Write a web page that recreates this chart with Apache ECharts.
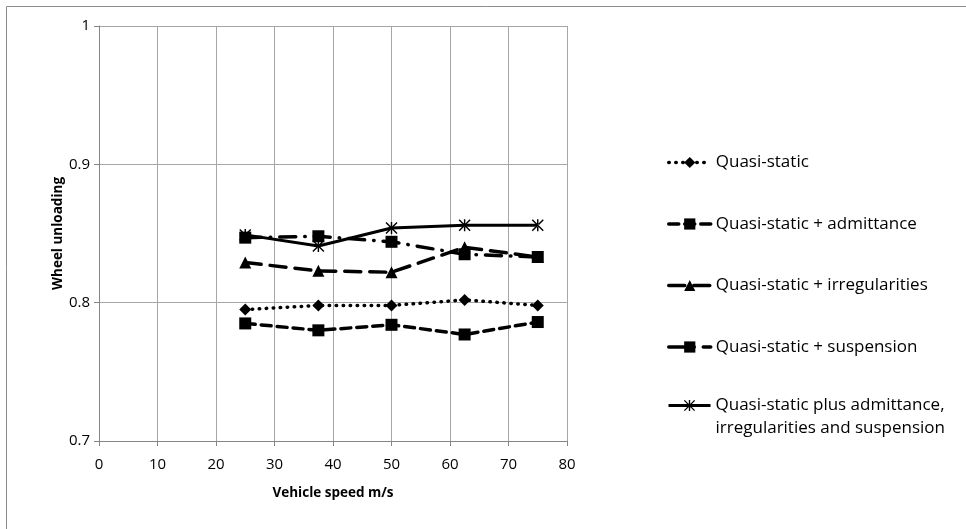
<!DOCTYPE html>
<html>
<head>
<meta charset="utf-8">
<script src="https://cdn.jsdelivr.net/npm/echarts@6/dist/echarts.min.js"></script>
<style>
html,body{margin:0;padding:0;background:#fff;}
#c{width:966px;height:529px;}
</style>
</head>
<body>
<div id="c"></div>
<script>
// Data
const speeds = [25, 37.5, 50, 62.5, 75];
const seriesNames = [
  'Quasi-static',
  'Quasi-static + admittance',
  'Quasi-static + irregularities',
  'Quasi-static + suspension',
  'Quasi-static plus admittance,\nirregularities and suspension'
];
const quasiStatic      = [0.795, 0.798, 0.798, 0.802, 0.798];
const qsAdmittance     = [0.785, 0.780, 0.784, 0.777, 0.786];
const qsIrregularities = [0.829, 0.823, 0.822, 0.840, 0.833];
const qsSuspension     = [0.847, 0.848, 0.844, 0.835, 0.833];
const qsAll            = [0.849, 0.841, 0.854, 0.856, 0.856];
const xTicks = [0, 10, 20, 30, 40, 50, 60, 70, 80];
const yTicks = [0.7, 0.8, 0.9, 1];

const FONT = '"Open Sans", Lato, sans-serif';
const asterisk = 'path://M4.4 0 L5.6 0 L5.6 10 L4.4 10 Z M0 0.85 L0.85 0 L10 9.15 L9.15 10 Z M10 0.85 L9.15 0 L0 9.15 L0.85 10 Z';

function pairs(vals){ return speeds.map((s,i)=>[s, vals[i]]); }

const legendCommon = {
  orient:'vertical', left:662, itemWidth:42, itemHeight:14,
  lineStyle:{width:'inherit'},
  textStyle:{fontFamily:FONT, fontSize:17, color:'#000', lineHeight:23}
};

const chart = echarts.init(document.getElementById('c'), null, {renderer:'canvas'});
const option = {
  animation:false,
  backgroundColor:'#fff',
  graphic:[{
    type:'rect', shape:{x:6.5, y:6.5, width:1000, height:1000},
    style:{fill:'none', stroke:'#8c8c8c', lineWidth:1}, silent:true, z:-1
  }],
  grid:{left:99, top:26, right:399, bottom:88, containLabel:false},
  xAxis:{
    type:'value', min:0, max:80, interval:10,
    name:'Vehicle speed m/s', nameLocation:'middle', nameGap:45,
    nameTextStyle:{fontFamily:FONT, fontWeight:'bold', fontSize:13.5, color:'#000'},
    axisLine:{show:true, lineStyle:{color:'#868686', width:1}},
    axisTick:{show:true, length:5, lineStyle:{color:'#868686'}},
    axisLabel:{fontFamily:FONT, fontSize:15, color:'#000', margin:16},
    splitLine:{show:true, lineStyle:{color:'#a6a6a6', width:1}}
  },
  yAxis:{
    type:'value', min:0.7, max:1, interval:0.1,
    name:'Wheel unloading', nameLocation:'middle', nameGap:32, nameRotate:90,
    nameTextStyle:{fontFamily:FONT, fontWeight:'bold', fontSize:13.5, color:'#000'},
    axisLine:{show:true, lineStyle:{color:'#868686', width:1}},
    axisTick:{show:true, length:5, lineStyle:{color:'#868686'}},
    axisLabel:{fontFamily:FONT, fontSize:15, color:'#000', margin:9,
      formatter:(v)=>{ const r=Math.round(v*10)/10; return r===1?'1':String(r); }},
    splitLine:{show:true, lineStyle:{color:'#a6a6a6', width:1}}
  },
  legend:[
    Object.assign({}, legendCommon, {
      top:146, itemGap:38.5,
      data:seriesNames.slice(0,4)
    }),
    Object.assign({}, legendCommon, {
      top:366,
      data:[seriesNames[4]],
      formatter:(n)=>'\n'+n
    })
  ],
  series:[
    {name:seriesNames[0], type:'line', data:pairs(quasiStatic), symbol:'diamond', symbolSize:12,
     itemStyle:{color:'#000'}, lineStyle:{color:'#000', width:3.5, type:[0.5,6.5], cap:'round'}},
    {name:seriesNames[1], type:'line', data:pairs(qsAdmittance), symbol:'rect', symbolSize:12,
     itemStyle:{color:'#000'}, lineStyle:{color:'#000', width:3.5, type:[10,6], cap:'round'}},
    {name:seriesNames[2], type:'line', data:pairs(qsIrregularities), symbol:'triangle', symbolSize:12,
     itemStyle:{color:'#000'}, lineStyle:{color:'#000', width:3.5, type:[16,9], cap:'round'}},
    {name:seriesNames[3], type:'line', data:pairs(qsSuspension), symbol:'rect', symbolSize:12,
     itemStyle:{color:'#000'}, lineStyle:{color:'#000', width:3.5, type:[16,9,0.5,9], cap:'round'}},
    {name:seriesNames[4], type:'line', data:pairs(qsAll), symbol:asterisk, symbolSize:12,
     itemStyle:{color:'#000'}, lineStyle:{color:'#000', width:3, type:'solid'}}
  ]
};
chart.setOption(option);
</script>
</body>
</html>
